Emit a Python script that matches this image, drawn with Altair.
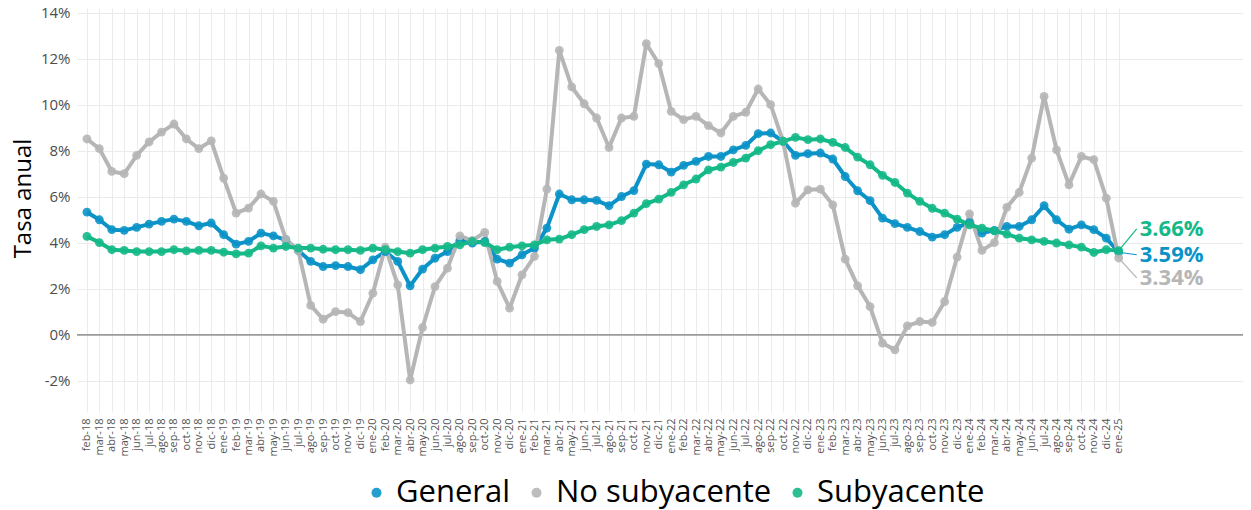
import altair as alt
import pandas as pd

months = [
    "feb-18", "mar-18", "abr-18", "may-18", "jun-18", "jul-18", "ago-18", "sep-18", "oct-18", "nov-18", "dic-18",
    "ene-19", "feb-19", "mar-19", "abr-19", "may-19", "jun-19", "jul-19", "ago-19", "sep-19", "oct-19", "nov-19", "dic-19",
    "ene-20", "feb-20", "mar-20", "abr-20", "may-20", "jun-20", "jul-20", "ago-20", "sep-20", "oct-20", "nov-20", "dic-20",
    "ene-21", "feb-21", "mar-21", "abr-21", "may-21", "jun-21", "jul-21", "ago-21", "sep-21", "oct-21", "nov-21", "dic-21",
    "ene-22", "feb-22", "mar-22", "abr-22", "may-22", "jun-22", "jul-22", "ago-22", "sep-22", "oct-22", "nov-22", "dic-22",
    "ene-23", "feb-23", "mar-23", "abr-23", "may-23", "jun-23", "jul-23", "ago-23", "sep-23", "oct-23", "nov-23", "dic-23",
    "ene-24", "feb-24", "mar-24", "abr-24", "may-24", "jun-24", "jul-24", "ago-24", "sep-24", "oct-24", "nov-24", "dic-24",
    "ene-25",
]

general = [
    5.33, 5.00, 4.57, 4.54, 4.67, 4.81, 4.93, 5.03, 4.93, 4.74, 4.86, 4.35, 3.94, 4.06, 4.42, 4.30, 4.13, 3.67, 3.19, 2.97, 3.01, 2.97, 2.83,
    3.26, 3.62, 3.19, 2.13, 2.86, 3.33, 3.62, 4.10, 3.99, 4.06, 3.29, 3.12, 3.48, 3.77, 4.64, 6.12, 5.87, 5.87, 5.84, 5.61, 6.01, 6.27, 7.42,
    7.39, 7.07, 7.36, 7.54, 7.75, 7.75, 8.04, 8.23, 8.74, 8.77, 8.41, 7.80, 7.87, 7.90, 7.64, 6.88, 6.26, 5.83, 5.07, 4.83, 4.67, 4.49, 4.25,
    4.35, 4.67, 4.88, 4.42, 4.54, 4.71, 4.71, 5.00, 5.61, 5.00, 4.59, 4.78, 4.57, 4.20, 3.59,
]

no_subyacente = [
    8.51, 8.09, 7.10, 7.00, 7.80, 8.38, 8.81, 9.16, 8.51, 8.09, 8.43, 6.81, 5.29, 5.51, 6.12, 5.80, 4.16, 3.67, 1.28, 0.68, 1.01, 0.97, 0.58,
    1.81, 3.81, 2.17, -1.96, 0.32, 2.10, 2.90, 4.30, 4.10, 4.45, 2.32, 1.16, 2.61, 3.41, 6.33, 12.36, 10.77, 10.04, 9.42, 8.14, 9.42, 9.49, 12.65,
    11.78, 9.71, 9.35, 9.49, 9.09, 8.77, 9.49, 9.67, 10.68, 10.00, 8.41, 5.72, 6.30, 6.33, 5.65, 3.29, 2.13, 1.23, -0.36, -0.65, 0.39, 0.58, 0.54,
    1.45, 3.38, 5.26, 3.67, 4.01, 5.54, 6.19, 7.68, 10.36, 8.04, 6.52, 7.75, 7.61, 5.94, 3.34,
]

subyacente = [
    4.28, 4.01, 3.70, 3.67, 3.62, 3.62, 3.62, 3.70, 3.65, 3.67, 3.67, 3.59, 3.52, 3.55, 3.87, 3.77, 3.84, 3.77, 3.77, 3.72, 3.70, 3.70, 3.67,
    3.77, 3.70, 3.62, 3.55, 3.70, 3.77, 3.84, 3.91, 4.06, 4.01, 3.70, 3.81, 3.87, 3.91, 4.13, 4.16, 4.35, 4.57, 4.71, 4.78, 4.96, 5.29, 5.70,
    5.90, 6.19, 6.52, 6.77, 7.17, 7.29, 7.49, 7.68, 8.00, 8.26, 8.41, 8.58, 8.48, 8.51, 8.36, 8.14, 7.72, 7.39, 6.93, 6.62, 6.16, 5.80, 5.50,
    5.29, 5.03, 4.78, 4.64, 4.52, 4.38, 4.20, 4.13, 4.06, 3.99, 3.91, 3.81, 3.58, 3.70, 3.66,
]

series_names = ["General", "No subyacente", "Subyacente"]
series_values = [general, no_subyacente, subyacente]
colors = ["#0b93c8", "#b6b6b6", "#14b987"]
y_ticks = [-2, 0, 2, 4, 6, 8, 10, 12, 14]

# label nudges for the end-of-line annotations (in % units)
label_nudge = {"General": -0.11, "No subyacente": -0.86, "Subyacente": 0.95}
label_x = 84.69
seg_x = 84.45

rows = []
for name, vals in zip(series_names, series_values):
    for i, v in enumerate(vals):
        rows.append({"i": i, "serie": name, "valor": v})
df = pd.DataFrame(rows)

FONT = "Open Sans"
label_expr = "[" + ",".join(f"'{m}'" for m in months) + "][datum.value]"

x_scale = alt.Scale(domain=[-0.8, 93.0], nice=False, zero=False)
y_scale = alt.Scale(domain=[-3.35, 14.2], nice=False, zero=False)

x_axis = alt.Axis(
    values=list(range(len(months))),
    labelExpr=label_expr,
    labelAngle=270,
    labelAlign="right",
    labelBaseline="middle",
    labelFontSize=11,
    labelFont=FONT,
    labelColor="#555555",
    labelPadding=6,
    labelOverlap=False,
    labelBound=False,
    labelFlush=False,
    ticks=False,
    domain=False,
    grid=True,
    gridColor="#ebebeb",
    gridWidth=1,
    title=None,
)

y_axis = alt.Axis(
    values=y_ticks,
    labelExpr="datum.value + '%'",
    labelFontSize=15,
    labelFont=FONT,
    labelColor="#4d4d4d",
    labelPadding=7,
    ticks=False,
    domain=False,
    grid=True,
    gridColor="#ebebeb",
    gridWidth=1,
    title="Tasa anual",
    titleFont=FONT,
    titleFontSize=24,
    titleFontWeight="normal",
    titleColor="#000000",
    titleAngle=270,
    titleAlign="center",
    titleBaseline="alphabetic",
    titleX=-47,
    titleY=190,
)

X = alt.X("i:Q", scale=x_scale, axis=x_axis)
Y = alt.Y("valor:Q", scale=y_scale, axis=y_axis)

legend = alt.Legend(
    title=None,
    orient="none",
    legendX=284,
    legendY=469,
    direction="horizontal",
    symbolType="circle",
    labelFont=FONT,
    labelFontSize=31,
    labelColor="#000000",
    labelLimit=400,
)

base = alt.Chart(df)

zero_line = alt.Chart(pd.DataFrame({"valor": [0]})).mark_rule(
    color="#7a7a7a", strokeWidth=1.3
).encode(y=Y)

# one line layer per series with its own fixed colour (no extra legend)
line_layers = []
for name, col in zip(series_names, colors):
    line_layers.append(
        base.transform_filter(alt.datum.serie == name)
        .mark_line(strokeWidth=4, strokeJoin="round", color=col)
        .encode(x=X, y=Y)
    )

points = base.mark_circle(size=78, opacity=0.9).encode(
    x=X,
    y=Y,
    fill=alt.Fill("serie:N", scale=alt.Scale(domain=series_names, range=colors), legend=legend),
)

segs = []
texts = []
for name, vals, col in zip(series_names, series_values, colors):
    last = vals[-1]
    end_df = pd.DataFrame([{
        "i": len(vals) - 1,
        "valor": last,
        "sx": seg_x,
        "lx": label_x,
        "ly": last + label_nudge[name],
        "txt": f"{last:.2f}%",
    }])
    segs.append(alt.Chart(end_df).mark_rule(strokeWidth=1.2, color=col).encode(
        x=X, y=Y, x2="sx:Q", y2="ly:Q"
    ))
    texts.append(alt.Chart(end_df).mark_text(
        align="left", baseline="middle", font=FONT, fontSize=22, fontWeight="bold", color=col
    ).encode(
        x=alt.X("lx:Q", scale=x_scale, axis=x_axis),
        y=alt.Y("ly:Q", scale=y_scale, axis=y_axis),
        text="txt:N",
    ))

chart = (
    alt.layer(zero_line, *line_layers, *segs, points, *texts)
    .properties(
        width=1166,
        height=404,
        autosize=alt.AutoSizeParams(type="none"),
        padding={"left": 69, "top": 0, "right": 0, "bottom": 98},
    )
    .configure(font=FONT)
    .configure_view(stroke=None)
    .configure_axis(domain=False, ticks=False)
)

chart.save("out.html", embed_options={"renderer": "svg", "actions": False})
